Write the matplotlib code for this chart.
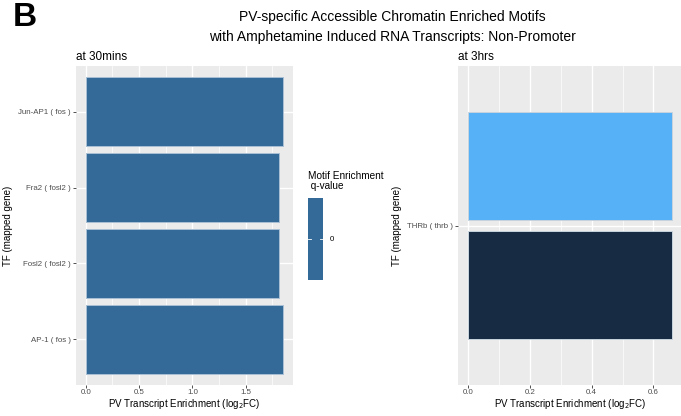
import matplotlib
matplotlib.use("Agg")
import matplotlib.pyplot as plt
from matplotlib.ticker import MultipleLocator

plt.rcParams['font.family'] = ['Liberation Sans', 'DejaVu Sans']

# 30 min panel
tf_30 = ["AP-1 ( fos )", "Fosl2 ( fosl2 )", "Fra2 ( fosl2 )", "Jun-AP1 ( fos )"]
enrich_30 = [1.852, 1.815, 1.815, 1.852]
qvalue_30 = [0, 0, 0, 0]

# 3 hr panel (two motif hits mapped to the same gene)
tf_3h = ["THRb ( thrb )"]
enrich_3h = [0.6615, 0.6615]
fill_3h = ["#56B1F7", "#172B43"]

bar_fill_30 = "#346A97"
panel_bg = "#EBEBEB"
tick_col = "#4D4D4D"

W, H = 681, 416
fig = plt.figure(figsize=(W / 100, H / 100), dpi=100)


def px_axes(x0, y0, x1, y1):
    return fig.add_axes([x0 / W, 1 - y1 / H, (x1 - x0) / W, (y1 - y0) / H])


def style(ax, ylabel_x):
    ax.set_facecolor(panel_bg)
    for s in ax.spines.values():
        s.set_visible(False)
    ax.grid(which='major', color='white', linewidth=1.0)
    ax.grid(which='minor', axis='x', color='white', linewidth=0.5)
    ax.set_axisbelow(True)
    ax.tick_params(axis='both', which='major', labelsize=5.7, labelcolor=tick_col,
                   color='#333333', length=2.2, width=0.6, pad=1.5)
    ax.tick_params(axis='x', which='major', pad=0.8)
    ax.tick_params(axis='both', which='minor', length=0)
    ax.set_xlabel("PV Transcript Enrichment (log$_2$FC)", fontsize=7, labelpad=0.6)
    ax.set_ylabel("TF (mapped gene)", fontsize=7)
    x0 = ax.get_position().x0 * W
    w = ax.get_position().width * W
    ax.yaxis.set_label_coords((ylabel_x - x0) / w, 0.5)


# left panel
ax1 = px_axes(76, 66, 293, 385)
style(ax1, 13)
ypos = list(range(1, len(tf_30) + 1))
ax1.barh(ypos, enrich_30, height=0.9, color=bar_fill_30,
         edgecolor='#A9BFD4', linewidth=0.7)
ax1.set_yticks(ypos)
ax1.set_yticklabels(tf_30)
xmax1 = max(enrich_30)
ax1.set_xlim(-0.05 * xmax1, 1.05 * xmax1)
ax1.set_ylim(0.4, len(tf_30) + 0.6)
ax1.xaxis.set_minor_locator(MultipleLocator(0.25))
ax1.set_xticks([0, 0.5, 1.0, 1.5])
ax1.set_xticklabels(["0.0", "0.5", "1.0", "1.5"])
ax1.set_title("at 30mins", loc='left', fontsize=8.5, pad=4)

# right panel (runs slightly past the right edge of the figure)
ax2 = px_axes(458.3, 66, 682.5, 385)
style(ax2, 401.5)
offsets = [0.225, -0.225]
for val, off, col in zip(enrich_3h, offsets, fill_3h):
    ax2.barh(1 + off, val, height=0.405, color=col,
             edgecolor='#C8D4DE', linewidth=0.7)
ax2.set_yticks([1])
ax2.set_yticklabels(tf_3h)
xmax2 = max(enrich_3h)
ax2.set_xlim(-0.05 * xmax2, 1.05 * xmax2)
ax2.set_ylim(0.4, 1.6)
ax2.set_xticks([0, 0.2, 0.4, 0.6])
ax2.set_xticklabels(["0.0", "0.2", "0.4", "0.6"])
ax2.xaxis.set_minor_locator(MultipleLocator(0.1))
ax2.set_title("at 3hrs", loc='left', fontsize=8.5, pad=4)

# colour legend for motif q-value
cax = px_axes(308.3, 198.3, 323.3, 280)
cax.set_facecolor(bar_fill_30)
for s in cax.spines.values():
    s.set_visible(False)
cax.set_xticks([])
cax.set_yticks([])
cax.set_xlim(0, 1)
cax.set_ylim(-1, 1)
q = qvalue_30[0]
cax.plot([0, 0.2], [q, q], color='white', linewidth=0.6)
cax.plot([0.8, 1.0], [q, q], color='white', linewidth=0.6)
cax.text(1.4, q, str(q), fontsize=5.7, color='black', va='center', ha='left',
         transform=cax.get_yaxis_transform())
fig.text(308 / W, 1 - 171 / H, "Motif Enrichment\n q-value", fontsize=7.2,
         ha='left', va='top', linespacing=1.0)

# titles
fig.text(392 / W, 1 - 17 / H, "PV-specific Accessible Chromatin Enriched Motifs",
         fontsize=10, ha='center', va='center')
fig.text(392 / W, 1 - 37 / H, "with Amphetamine Induced RNA Transcripts: Non-Promoter",
         fontsize=10, ha='center', va='center')
fig.text(13 / W, 1 - 26 / H, "B", fontsize=24, fontweight='bold', ha='left', va='baseline')

fig.savefig("out.png", dpi=100)
